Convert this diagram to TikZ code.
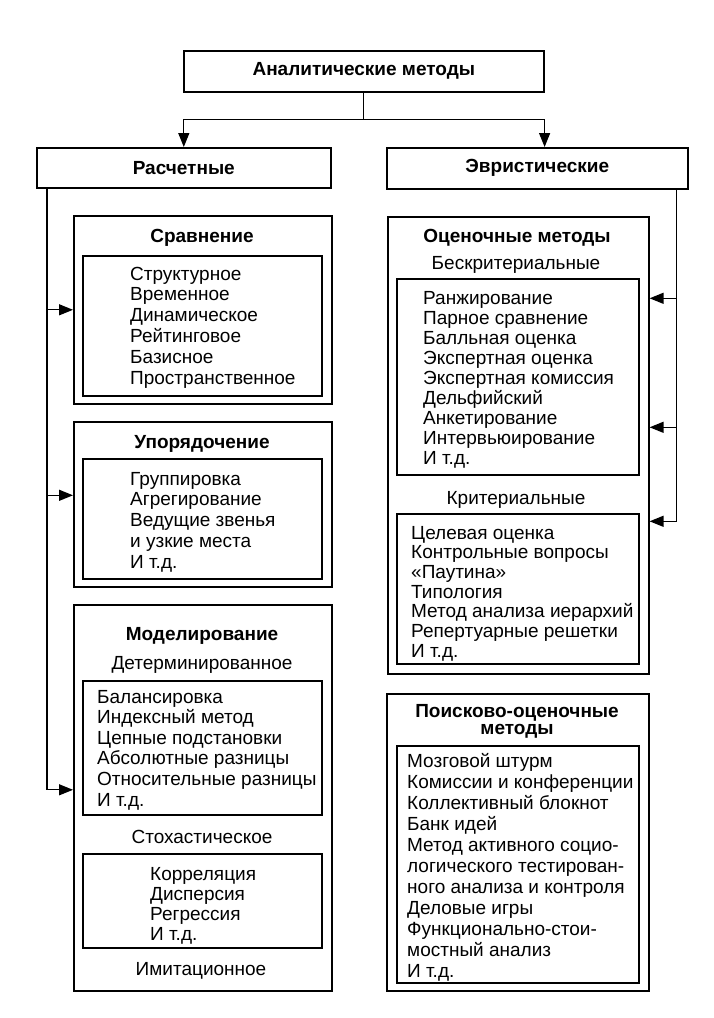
\documentclass[tikz,border=0pt]{standalone}
\usepackage{fontspec}
\setmainfont{Liberation Sans}
\usetikzlibrary{arrows.meta}

\begin{document}
\begin{tikzpicture}[x=1pt, y=-1pt,
    frame/.style 2 args={draw, line width=1.6pt, inner sep=0pt, anchor=north west,
        minimum width=#1pt, minimum height=#2pt},
    head/.style={font=\fontsize{19}{17}\selectfont\bfseries, align=center, inner sep=0pt},
    sub/.style={font=\fontsize{19}{21}\selectfont, anchor=base, inner sep=0pt},
    item/.style={font=\fontsize{19}{21}\selectfont, anchor=base west, inner sep=0pt},
    arr/.style={line width=1.3pt, -{Triangle[length=14pt, width=11pt]}}]

    \useasboundingbox (0,0) rectangle (713,1018);

    % top levels
    \node[frame={360}{41}, head] (ana) at (183,50) {Аналитические методы};
    \node[frame={294}{40}, head] (calc) at (36,147) {Расчетные};
    \node[frame={301}{41}, head] (heur) at (386,147) {Эвристические};

    % left column
    \node[frame={258}{188}] (cmp) at (73,215) {};
    \node[frame={239}{140}] (cmpbox) at (82,255) {};
    \node[head, anchor=base] (cmph) at (202,242) {Сравнение};
    \foreach \t [count=\i from 0] in {Структурное, Временное, Динамическое, Рейтинговое, Базисное, Пространственное}
        \node[item] (cmpi\i) at (130, 280+20.8*\i) {\t};

    \node[frame={258}{165}] (ord) at (73,421) {};
    \node[frame={239}{120}] (ordbox) at (82,458) {};
    \node[head, anchor=base] (ordh) at (202,448) {Упорядочение};
    \foreach \t [count=\i from 0] in {Группировка, Агрегирование, Ведущие звенья, и узкие места, И т.д.}
        \node[item] (ordi\i) at (130, 485+20.9*\i) {\t};

    \node[frame={258}{386}] (mod) at (73,604) {};
    \node[head, anchor=base] (modh) at (202,640) {Моделирование};
    \node[sub] (det) at (202,669) {Детерминированное};
    \node[frame={239}{134}] (detbox) at (82,680) {};
    \foreach \t [count=\i from 0] in {Балансировка, Индексный метод, Цепные подстановки, Абсолютные разницы, Относительные разницы, И т.д.}
        \node[item] (deti\i) at (97, 703+20.6*\i) {\t};
    \node[sub] (sto) at (202,843) {Стохастическое};
    \node[frame={239}{94}] (stobox) at (82,853) {};
    \foreach \t [count=\i from 0] in {Корреляция, Дисперсия, Регрессия, И т.д.}
        \node[item] (stoi\i) at (150, 880+20*\i) {\t};
    \node[sub] (imit) at (201,975) {Имитационное};

    % right column
    \node[frame={261}{457}] (est) at (387,216) {};
    \node[head, anchor=base] (esth) at (517,242) {Оценочные методы};
    \node[sub] (bkr) at (516,269) {Бескритериальные};
    \node[frame={242}{196}] (bkrbox) at (396,278) {};
    \foreach \t [count=\i from 0] in {Ранжирование, Парное сравнение, Балльная оценка, Экспертная оценка, Экспертная комиссия, Дельфийский, Анкетирование, Интервьюирование, И т.д.}
        \node[item] (bkri\i) at (423, 304+20*\i) {\t};
    \node[sub] (kr) at (516,504) {Критериальные};
    \node[frame={242}{150}] (krbox) at (396,513) {};
    \foreach \t [count=\i from 0] in {Целевая оценка, Контрольные вопросы, «Паутина», Типология, Метод анализа иерархий, Репертуарные решетки, И т.д.}
        \node[item] (kri\i) at (411, 539+19.7*\i) {\t};

    \node[frame={262}{297}] (srch) at (386,693) {};
    \node[head] (srchh) at (517,721) {Поисково-оценочные\\методы};
    \node[frame={242}{237}] (srchbox) at (396,745) {};
    \foreach \t [count=\i from 0] in {Мозговой штурм, Комиссии и конференции, Коллективный блокнот, Банк идей, Метод активного социо-, логического тестирован-, ного анализа и контроля, Деловые игры, Функционально-стои-, мостный анализ, И т.д.}
        \node[item] (srchi\i) at (407, 767+21*\i) {\t};

    % connectors
    \coordinate (split) at ([yshift=-27pt]ana.south);
    \draw[line width=1.3pt] (ana.south) -- (split);
    \draw[arr] (split) -| (calc.north);
    \draw[arr] (split) -| (ana.east |- heur.north);

    \coordinate (lb) at ([xshift=11pt]calc.south west);
    \coordinate (ordarr) at ([yshift=9pt]ord.west);
    \draw[arr] (lb) |- ([yshift=8pt]mod.west);
    \draw[arr] (lb |- cmp.west) -- (cmp.west);
    \draw[arr] (lb |- ordarr) -- (ordarr);

    \coordinate (rb) at ([xshift=-12pt]heur.south east);
    \coordinate (e1) at ([yshift=147pt]est.east);
    \coordinate (e2) at ([yshift=18pt]est.east);
    \coordinate (e3) at ([yshift=-76pt]est.east);
    \draw[arr] (rb) |- (e3);
    \draw[arr] (rb |- e1) -- (e1);
    \draw[arr] (rb |- e2) -- (e2);
\end{tikzpicture}
\end{document}
